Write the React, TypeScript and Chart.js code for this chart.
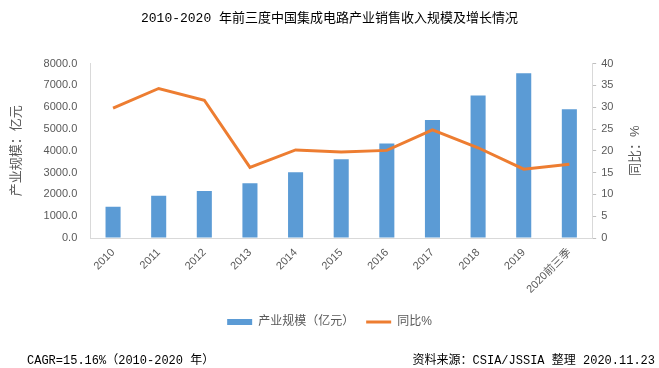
import React, { useEffect, useRef } from "react";
import { Chart, registerables } from "chart.js";
Chart.register(...registerables);

const categories = ["2010", "2011", "2012", "2013", "2014", "2015", "2016", "2017", "2018", "2019", "2020前三季"];
const salesValues = [1440.2, 1933.7, 2158.5, 2508.5, 3015.4, 3609.8, 4335.5, 5411.3, 6532.0, 7562.3, 5905.8];
const growthValues = [29.8, 34.3, 31.6, 16.2, 20.2, 19.7, 20.1, 24.8, 20.7, 15.8, 16.9];
const chartTitle = "2010-2020 年前三度中国集成电路产业销售收入规模及增长情况";
const leftTitle = "产业规模：亿元";
const rightTitle = "同比：%";
const seriesNames = ["产业规模（亿元）", "同比%"];
const footLeft = "CAGR=15.16%（2010-2020 年）";
const footRight = "资料来源：CSIA/JSSIA 整理 2020.11.23";

const BLUE = "#5B9BD5";
const ORANGE = "#ED7D31";
const GRAY = "#595959";
const AXIS = "#d9d9d9";
const SANS = "'Liberation Sans', 'Noto Sans CJK SC', sans-serif";
const MONO = "'Liberation Mono', 'Noto Sans CJK SC', monospace";

const rightTitlePlugin = {
  id: "rightTitle",
  afterDraw(chart: any) {
    const s = chart.scales.y1;
    if (!s) return;
    const ctx = chart.ctx;
    ctx.save();
    const x = s.right - 7.8 - 16;
    const y = (chart.chartArea.top + chart.chartArea.bottom) / 2;
    ctx.translate(x, y);
    ctx.rotate(-Math.PI / 2);
    ctx.font = "13px " + SANS;
    ctx.fillStyle = GRAY;
    ctx.textAlign = "center";
    ctx.textBaseline = "middle";
    ctx.fillText(rightTitle, 0, 0);
    ctx.restore();
  },
};

export default function App() {
  const ref = useRef<HTMLCanvasElement | null>(null);
  useEffect(() => {
    if (!ref.current) return;
    const chart = new Chart(ref.current, {
      type: "bar",
      data: {
        labels: categories,
        datasets: [
          {
            type: "line",
            label: seriesNames[1],
            data: growthValues,
            yAxisID: "y1",
            borderColor: ORANGE,
            backgroundColor: ORANGE,
            borderWidth: 3,
            pointRadius: 0,
            tension: 0,
            order: 0,
          } as any,
          {
            type: "bar",
            label: seriesNames[0],
            data: salesValues,
            yAxisID: "y",
            backgroundColor: BLUE,
            barPercentage: 0.33,
            categoryPercentage: 1,
            order: 1,
          },
        ],
      },
      options: {
        animation: false,
        responsive: true,
        maintainAspectRatio: false,
        layout: { padding: { left: 0, right: 0, top: 0, bottom: 30 } },
        plugins: {
          title: {
            display: true,
            text: chartTitle,
            color: "#000",
            font: { size: 13, family: MONO, weight: "normal" },
            padding: { top: 11, bottom: 37 },
          },
          tooltip: { enabled: false },
          legend: {
            position: "bottom",
            labels: {
              usePointStyle: true,
              pointStyleWidth: 25,
              boxHeight: 6,
              padding: 12,
              color: GRAY,
              font: { size: 12, family: SANS },
              generateLabels: () => [
                { text: seriesNames[0], fillStyle: BLUE, strokeStyle: BLUE, lineWidth: 0, pointStyle: "rect", hidden: false, datasetIndex: 1, fontColor: GRAY } as any,
                { text: seriesNames[1], fillStyle: ORANGE, strokeStyle: ORANGE, lineWidth: 3, pointStyle: "line", hidden: false, datasetIndex: 0, fontColor: GRAY } as any,
              ],
            },
          },
        },
        scales: {
          x: {
            grid: { display: false, drawTicks: false },
            border: { display: true, color: AXIS, width: 1 },
            ticks: {
              color: GRAY,
              font: { size: 11, family: SANS },
              minRotation: 45,
              maxRotation: 45,
              autoSkip: false,
              padding: 8,
            },
          },
          y: {
            position: "left",
            min: 0,
            max: 8000,
            grid: { display: true, drawOnChartArea: false, drawTicks: false },
            border: { display: true, color: AXIS, width: 1 },
            ticks: {
              stepSize: 1000,
              color: GRAY,
              font: { size: 11, family: SANS },
              padding: 13,
              callback: (v: any) => Number(v).toFixed(1),
            },
            title: {
              display: true,
              text: leftTitle,
              color: GRAY,
              font: { size: 13, family: SANS },
              padding: { top: 9, bottom: 6 },
            },
          },
          y1: {
            position: "right",
            min: 0,
            max: 40,
            grid: { display: true, drawOnChartArea: false, drawTicks: true, tickLength: 4, color: "#bfbfbf" },
            border: { display: true, color: AXIS, width: 1 },
            ticks: {
              stepSize: 5,
              color: GRAY,
              font: { size: 11, family: SANS },
              padding: 5,
            },
            title: {
              display: true,
              text: rightTitle,
              color: "rgba(0,0,0,0)",
              font: { size: 13, family: SANS },
              padding: { top: 16, bottom: 9 },
            },
          },
        },
      } as any,
      plugins: [rightTitlePlugin],
    });
    return () => chart.destroy();
  }, []);

  return (
    <div style={{ position: "fixed", left: 0, top: 0, width: 659, height: 368, background: "#fff" }}>
      <canvas ref={ref} />
      <div style={{ position: "absolute", left: 27, top: 350, font: "12px " + MONO, color: "#000", whiteSpace: "nowrap" }}>{footLeft}</div>
      <div style={{ position: "absolute", right: 4, top: 350, font: "12px " + MONO, color: "#000", whiteSpace: "nowrap" }}>{footRight}</div>
    </div>
  );
}
